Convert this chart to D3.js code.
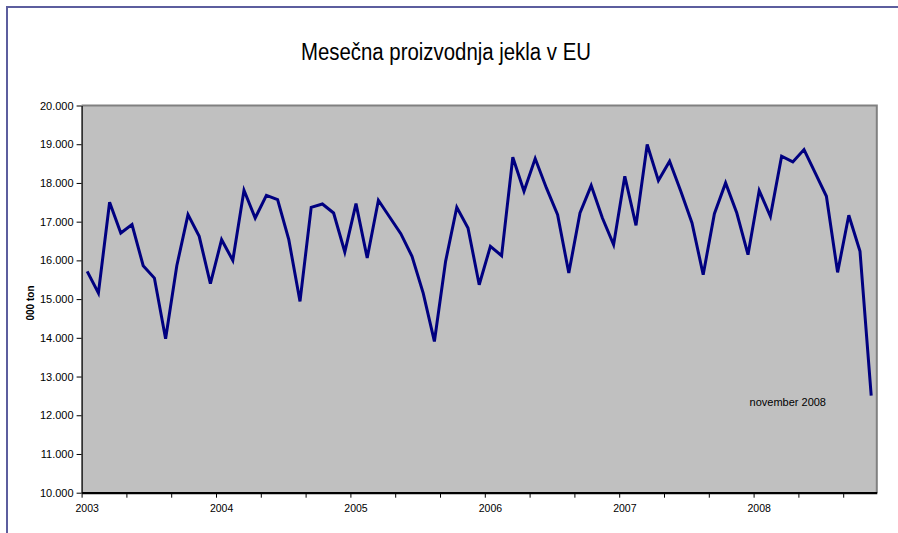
<!DOCTYPE html>
<html><head><meta charset="utf-8">
<script src="https://cdn.jsdelivr.net/npm/d3@7"></script>
<style>body{margin:0;background:#fff;overflow:hidden}</style>
</head><body><svg id="c" width="898" height="533"></svg>
<script>
const months = [
 "2003-01","2003-02","2003-03","2003-04","2003-05","2003-06","2003-07","2003-08","2003-09","2003-10","2003-11","2003-12",
 "2004-01","2004-02","2004-03","2004-04","2004-05","2004-06","2004-07","2004-08","2004-09","2004-10","2004-11","2004-12",
 "2005-01","2005-02","2005-03","2005-04","2005-05","2005-06","2005-07","2005-08","2005-09","2005-10","2005-11","2005-12",
 "2006-01","2006-02","2006-03","2006-04","2006-05","2006-06","2006-07","2006-08","2006-09","2006-10","2006-11","2006-12",
 "2007-01","2007-02","2007-03","2007-04","2007-05","2007-06","2007-07","2007-08","2007-09","2007-10","2007-11","2007-12",
 "2008-01","2008-02","2008-03","2008-04","2008-05","2008-06","2008-07","2008-08","2008-09","2008-10","2008-11"
];
const production = [
 15715,15156,17500,16707,16923,15862,15543,13975,15862,17181,16621,15397,
 16535,16000,17811,17095,17681,17569,16535,14940,17371,17457,17224,16216,
 17466,16061,17552,17121,16690,16104,15156,13906,15975,17371,16836,15371,
 16362,16121,18664,17785,18629,17871,17181,15673,17224,17931,17095,16405,
 18172,16905,18991,18060,18560,17785,16966,15630,17207,18000,17224,16147,
 17802,17138,18690,18543,18862,18259,17655,15690,17164,16233,12509
];
const yearLabels = ["2003","2004","2005","2006","2007","2008"];
const yTicks = [10000,11000,12000,13000,14000,15000,16000,17000,18000,19000,20000];
const title = "Mesečna proizvodnja jekla v EU";
const yTitle = "000 ton";
const note = "november 2008";

const svg = d3.select("#c");
const L = 81.6, R = 876.8, T = 105.5, B = 492.7;

// outer chart border
svg.append("rect").attr("x",7).attr("y",7).attr("width",898).attr("height",540)
  .attr("fill","none").attr("stroke","#5c5e9e").attr("stroke-width",2);

const x = d3.scaleBand().domain(months).range([L,R]).padding(0);
const xi = d3.scaleLinear().domain([0, months.length]).range([L,R]);
const y = d3.scaleLinear().domain([10000,20000]).range([B,T]);

// plot area
svg.append("rect").attr("x",L).attr("y",T).attr("width",R-L).attr("height",B-T)
  .attr("fill","#c0c0c0");
svg.append("path").attr("d",`M${L},${T}H${R}V${B}`).attr("fill","none")
  .attr("stroke","#808080").attr("stroke-width",2);

const loc = d3.formatLocale({decimal:",",thousands:".",grouping:[3],currency:["",""]});
const fmt = loc.format(",.0f");

// y axis
const ya = svg.append("g").attr("transform",`translate(${L},0)`)
  .call(d3.axisLeft(y).tickValues(yTicks).tickFormat(fmt).tickSize(5).tickPadding(3).tickSizeOuter(0));
ya.select(".domain").attr("stroke","#000").attr("stroke-width",1.3);
ya.selectAll(".tick line").attr("stroke","#000");
ya.selectAll("text").attr("font-family","'Liberation Sans', Arial, sans-serif").attr("font-size",11).attr("fill","#000");

// x axis ticks
const xa = svg.append("g").attr("transform",`translate(0,${B})`)
  .call(d3.axisBottom(xi).tickValues(d3.range(0, months.length, 4)).tickFormat("").tickSize(5).tickSizeOuter(0));
xa.select(".domain").attr("stroke","#000").attr("stroke-width",2.2);
xa.selectAll(".tick line").attr("stroke","#000");

// x labels (January of each year)
const xl = svg.append("g").attr("transform",`translate(0,${B})`)
  .call(d3.axisBottom(x).tickValues(months.filter(m => m.endsWith("-01")))
    .tickFormat(m => m.slice(0,4)).tickSize(0).tickPadding(12));
xl.select(".domain").remove();
xl.selectAll("text").attr("font-family","'Liberation Sans', Arial, sans-serif").attr("font-size",10.5).attr("fill","#000");

// line
const line = d3.line().x((d,i) => x(months[i]) + x.bandwidth()/2).y(d => y(d));
svg.append("path").datum(production).attr("d",line).attr("fill","none")
  .attr("stroke","#000080").attr("stroke-width",3).attr("stroke-linejoin","miter");

// title
svg.append("text").attr("x",446).attr("y",60).attr("text-anchor","middle")
  .attr("font-family","'Liberation Sans', Arial, sans-serif").attr("font-size",23)
  .attr("textLength",290).attr("lengthAdjust","spacingAndGlyphs")
  .attr("fill","#000").text(title);

// y title
svg.append("text").attr("transform","translate(34,303) rotate(-90)").attr("text-anchor","middle")
  .attr("font-family","'Liberation Sans', Arial, sans-serif").attr("font-size",10).attr("font-weight","bold")
  .attr("fill","#000").text(yTitle);

// annotation
svg.append("text").attr("x",826).attr("y",406).attr("text-anchor","end")
  .attr("font-family","'Liberation Sans', Arial, sans-serif").attr("font-size",11)
  .attr("fill","#000").text(note);
</script></body></html>
